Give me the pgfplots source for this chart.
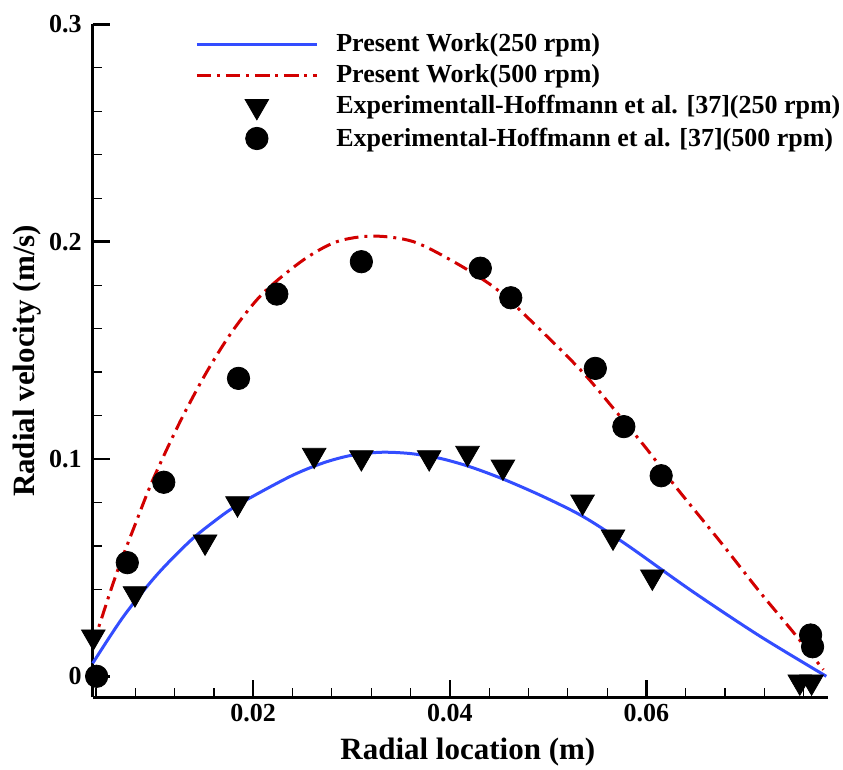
\documentclass[border=0pt]{standalone}
\usepackage{fontspec}
\setmainfont{Liberation Serif}
\usepackage{pgfplots}
\pgfplotsset{compat=1.18}
\definecolor{pwblue}{RGB}{51,77,255}
\definecolor{pwred}{RGB}{210,0,0}

\begin{document}
\begin{tikzpicture}
\begin{axis}[
  scale only axis,
  width=367.8pt, height=336.5pt,
  xmin=0.00367, xmax=0.0785,
  ymin=-0.0097, ymax=0.3,
  clip=false,
  scaled x ticks=false, scaled y ticks=false,
  axis lines*=left,
  axis line style={line width=1.4pt},
  tick align=inside,
  xtick={0.02,0.04,0.06}, xticklabels={0.02,0.04,0.06},
  ytick={0,0.1,0.2,0.3}, yticklabels={0,0.1,0.2,0.3},
  minor xtick={0.004,0.008,0.012,0.016,0.024,0.028,0.032,0.036,0.044,0.048,0.052,0.056,0.064,0.068,0.072,0.076},
  minor ytick={0.02,0.04,0.06,0.08,0.12,0.14,0.16,0.18,0.22,0.24,0.26,0.28},
  major tick length=8.5pt, minor tick length=4.5pt,
  every major tick/.style={black, line width=1.2pt},
  every minor tick/.style={black, line width=0.6pt},
  tick label style={font=\fontsize{13}{15}\selectfont\bfseries},
  yticklabel style={xshift=-2pt},
  xlabel={Radial location (m)},
  ylabel={Radial velocity (m/s)},
  label style={font=\fontsize{15.5}{18}\selectfont\bfseries},
  xlabel style={at={(axis description cs:0.51,-0.081)}, anchor=center},
  ylabel style={at={(axis description cs:-0.089,0.5)}, anchor=center},
  legend style={draw=none, fill=none, at={(axis description cs:0.139,0.99)}, anchor=north west,
    font=\fontsize{13}{15}\selectfont\bfseries, inner sep=0pt, row sep=3pt,
    nodes={inner sep=1pt},
    /tikz/every odd column/.append style={column sep=8pt}},
  legend cell align=left,
  legend image code/.code={\draw[mark repeat=2,mark phase=2] plot coordinates {(0pt,0pt)(30pt,0pt)(60pt,0pt)};},
]
\coordinate (SW) at (rel axis cs:0,0);
\coordinate (NE) at (rel axis cs:1,1);

% present work, 250 rpm
\addplot[pwblue, line width=1.5pt, smooth] coordinates {
  (0.00367,0.006)(0.00678,0.0274)(0.01018,0.0466)(0.01356,0.0622)
  (0.0160,0.0712)(0.01847,0.0790)(0.02373,0.0919)(0.02712,0.0982)
  (0.0300,0.1017)(0.0330,0.1031)(0.0360,0.1025)(0.0390,0.1003)
  (0.0420,0.0965)(0.0454,0.0908)(0.0495,0.0827)
  (0.0536,0.0734)(0.0580,0.0605)(0.0647,0.0390)(0.0715,0.0186)
  (0.0783,0.0)};
\addlegendentry{Present Work(250 rpm)}

% present work, 500 rpm
\addplot[pwred, line width=1.5pt, smooth, dash pattern=on 7pt off 3pt on 1.5pt off 3pt] coordinates {
  (0.00367,0.014)(0.00441,0.0244)(0.0061,0.0474)(0.008,0.0700)
  (0.0098,0.0905)(0.01254,0.1170)(0.01526,0.1400)(0.01797,0.1594)
  (0.0210,0.1763)(0.0251,0.1916)(0.0285,0.2)(0.0322,0.2026)
  (0.0363,0.2)(0.0407,0.190)(0.0448,0.178)(0.0488,0.1612)
  (0.0534,0.1405)(0.0566,0.1235)(0.0600,0.1048)(0.0631,0.0865)
  (0.0675,0.0620)(0.0715,0.0390)(0.0749,0.0205)(0.0780,0.003)};
\addlegendentry{Present Work(500 rpm)}

% experiment, 250 rpm
\addplot[only marks, mark=triangle*, mark size=6.8pt,
  mark options={rotate=180, fill=black, draw=black, solid}] coordinates {
  (0.00373,0.0182)(0.00797,0.0381)(0.0151,0.0619)(0.0184,0.0795)
  (0.0262,0.1018)(0.031,0.1007)(0.0379,0.1007)(0.0418,0.1027)
  (0.0454,0.0964)(0.0535,0.0803)(0.0566,0.0642)(0.0606,0.0458)
  (0.0756,-0.0025)(0.0768,-0.0025)};
\addlegendentry{Experimentall-Hoffmann et al. [37](250 rpm)}

% experiment, 500 rpm
\addplot[only marks, mark=*, mark size=5.6pt,
  mark options={fill=black, draw=black, solid}] coordinates {
  (0.00407,0.0)(0.00719,0.0523)(0.0109,0.0893)(0.0185,0.1371)
  (0.0224,0.1759)(0.031,0.1908)(0.0431,0.1878)(0.0462,0.1742)
  (0.0548,0.1417)(0.0577,0.1149)(0.0615,0.0923)(0.0767,0.019)
  (0.0769,0.0136)};
\addlegendentry{Experimental-Hoffmann et al. [37](500 rpm)}
\end{axis}
\pgfresetboundingbox
\path ([shift={(-46.35pt,-35.85pt)}]SW) rectangle ([shift={(7.35pt,12.2pt)}]NE);
\end{tikzpicture}
\end{document}
